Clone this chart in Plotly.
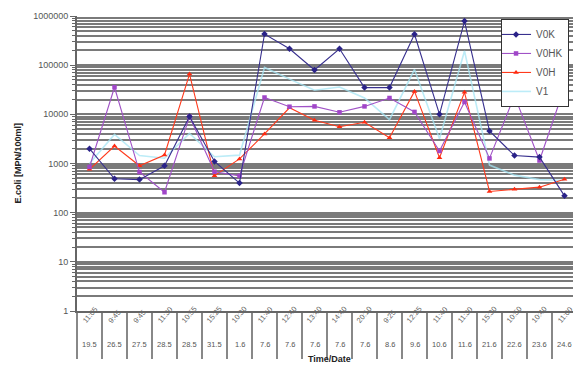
import plotly.graph_objects as go

# Sampling times and dates
times = ["11:05", "9:45", "9:45", "11:30", "10:55", "15:25", "10:30", "11:40", "12:40", "13:40",
         "14:40", "20:10", "9:25", "12:25", "11:40", "11:30", "15:30", "10:50", "10:40", "11:00"]
dates = ["19.5", "26.5", "27.5", "28.5", "28.5", "31.5", "1.6", "7.6", "7.6", "7.6",
         "7.6", "7.6", "8.6", "9.6", "10.6", "11.6", "21.6", "22.6", "23.6", "24.6"]

# E.coli counts [MPN/100ml] per sampling point
v0k = [2000, 490, 470, 900, 9000, 1100, 400, 430000, 215000, 80000,
       215000, 35000, 35000, 425000, 10000, 790000, 4600, 1450, 1350, 220]
v0hk = [850, 35500, 670, 260, 9000, 680, 560, 22000, 14300, 14500,
        11000, 14500, 21500, 11200, 1800, 17800, 1270, 24000, 1150, 35500]
v0h = [760, 2270, 900, 1490, 66000, 565, 1240, 4000, 13600, 7600,
       5600, 6900, 3350, 29300, 1310, 28000, 270, 300, 330, 480]
v1 = [1000, 3900, 1450, 1280, 4100, 1370, 1480, 90000, 52000, 31000,
      36000, 21500, 7800, 82000, 3200, 195000, 930, 580, 470, 450]

x = list(range(len(times)))
FONT = "Liberation Sans, Arial, sans-serif"
GRID = "#7a7a7a"
TEXT = "#555555"

fig = go.Figure()
fig.add_trace(go.Scatter(x=x, y=v1, name="V1", mode="lines", opacity=0.75,
                         line=dict(color="#a6e6f5", width=1.6)))
fig.add_trace(go.Scatter(x=x, y=v0h, name="V0H", mode="lines+markers",
                         line=dict(color="#ff3a1c", width=1.1),
                         marker=dict(symbol="triangle-up", size=5, color="#ff2a10")))
fig.add_trace(go.Scatter(x=x, y=v0hk, name="V0HK", mode="lines+markers",
                         line=dict(color="#a052c6", width=1.1),
                         marker=dict(symbol="square", size=4.5, color="#a046c8")))
fig.add_trace(go.Scatter(x=x, y=v0k, name="V0K", mode="lines+markers",
                         line=dict(color="#38308e", width=1.1),
                         marker=dict(symbol="diamond", size=5, color="#2a2288")))

annotations = []
for i, (t, d) in enumerate(zip(times, dates)):
    annotations.append(dict(x=i, y=-0.057, xref="x", yref="paper", text=t, showarrow=False,
                            textangle=-50, font=dict(family=FONT, size=7.5, color="#666")))
    annotations.append(dict(x=i, y=-0.135, xref="x", yref="paper", text=d, showarrow=False,
                            font=dict(family=FONT, size=7.5, color=TEXT)))
annotations.append(dict(x=0.51, y=-0.186, xref="paper", yref="paper", text="<b>Time/Date</b>",
                        showarrow=False, font=dict(family=FONT, size=9, color="#222")))
annotations.append(dict(x=-0.135, y=0.5, xref="paper", yref="paper",
                        text="<b>E.coli [MPN/100ml]</b>", textangle=-90, showarrow=False,
                        font=dict(family=FONT, size=9, color="#222")))

fig.update_layout(
    width=573, height=372,
    margin=dict(l=77, r=0, t=16, b=61),
    paper_bgcolor="white", plot_bgcolor="white",
    showlegend=True,
    legend=dict(x=0.992, y=0.99, xanchor="right", yanchor="top",
                bgcolor="white", bordercolor="#333", borderwidth=1,
                font=dict(family=FONT, size=10, color=TEXT),
                traceorder="reversed", tracegroupgap=0, itemwidth=30,
                indentation=-6),
    annotations=annotations,
)
fig.update_xaxes(
    range=[-0.5, 19.34], showgrid=False, zeroline=False,
    tickvals=[i - 0.5 for i in range(len(times) + 1)],
    showticklabels=False, ticks="outside", ticklen=46, tickwidth=1.5, tickcolor="#888",
    showline=True, linecolor="#666", linewidth=2,
)
fig.update_yaxes(
    type="log", range=[0, 6], dtick=1,
    tickvals=[1, 10, 100, 1000, 10000, 100000, 1000000],
    ticktext=["1", "10", "100", "1000", "10000", "100000", "1000000"],
    tickfont=dict(family=FONT, size=9, color=TEXT),
    ticks="outside", ticklen=5, tickcolor="#666",
    showgrid=True, gridcolor=GRID, gridwidth=1.5,
    minor=dict(dtick="D1", showgrid=True, gridcolor=GRID, gridwidth=1.5,
               ticks="outside", ticklen=3, tickcolor="#666"),
    showline=True, linecolor="#666", linewidth=2, zeroline=False,
)

fig.write_html("out.html")
